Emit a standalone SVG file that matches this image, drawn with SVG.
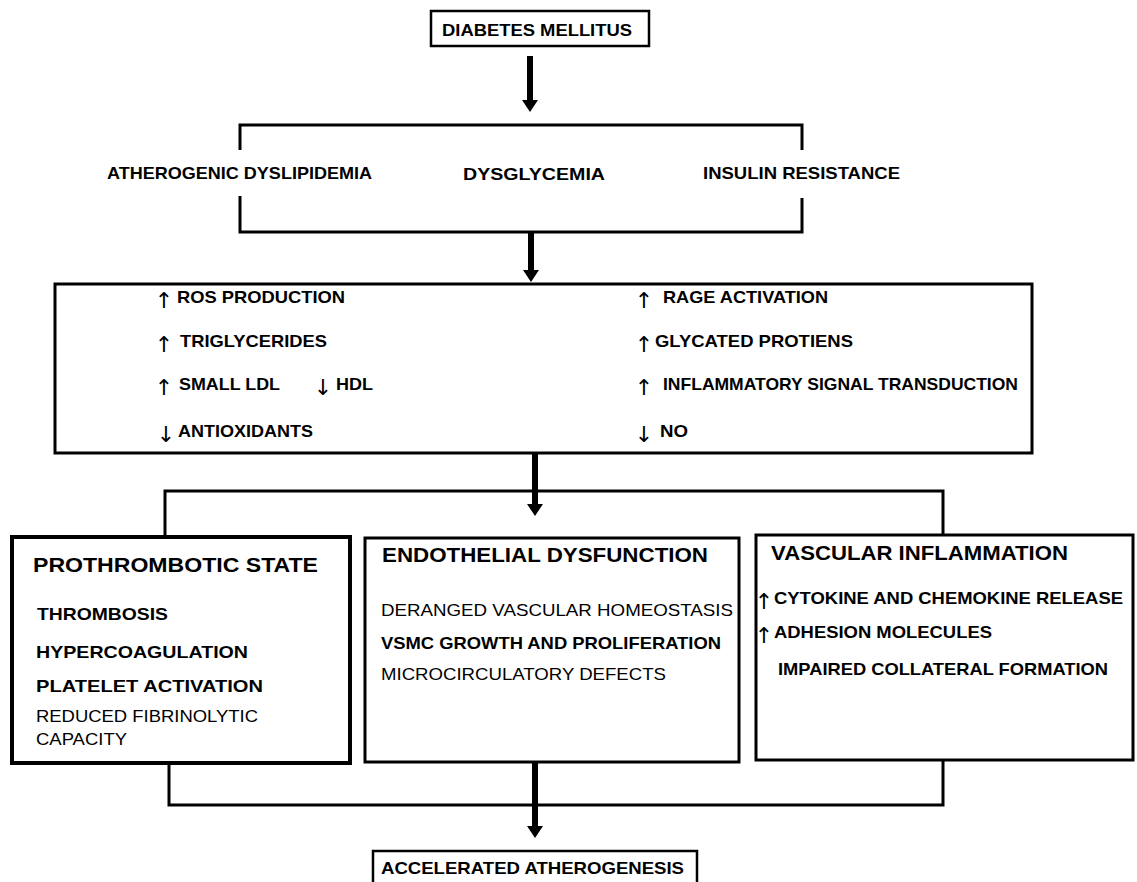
<svg xmlns="http://www.w3.org/2000/svg" width="1137" height="882" viewBox="0 0 1137 882">
<defs>
<style>
text{font-family:"Liberation Sans",Arial,"DejaVu Sans",sans-serif;fill:#000}
.b{font-weight:bold;font-size:17px}
.r{font-weight:normal;font-size:17px}
.t{font-weight:bold;font-size:21px}
.ar{font-family:"DejaVu Sans",sans-serif;font-weight:normal;font-size:22px;text-anchor:middle}
.box{fill:#fff;stroke:#000}
.ln{fill:none;stroke:#000;stroke-width:3}
.sh{fill:none;stroke:#000;stroke-width:6}
</style>
<marker id="ah" viewBox="0 0 12 16" refX="0" refY="8" markerWidth="12" markerHeight="16" markerUnits="userSpaceOnUse" orient="auto">
<path d="M0,0 L12,8 L0,16 z" fill="#000"/>
</marker>
</defs>
<rect width="1137" height="882" fill="#fff"/>

<g id="connectors">
<line class="sh" x1="530" y1="56" x2="530" y2="100" marker-end="url(#ah)"/>
<path class="ln" d="M240,150 V125 H802 V150"/>
<path class="ln" d="M240,196 V232 H802 V198"/>
<line class="sh" x1="531" y1="232" x2="531" y2="270" marker-end="url(#ah)"/>
<path class="ln" d="M165,537 V491 H943 V535"/>
<line class="sh" x1="535" y1="453" x2="535" y2="504" marker-end="url(#ah)"/>
<path class="ln" d="M169,764 V805 H943 V760"/>
<line class="sh" x1="535" y1="762" x2="535" y2="826" marker-end="url(#ah)"/>
</g>

<g id="n-diabetes">
<rect class="box" x="431" y="11" width="218" height="35" stroke-width="2.5"/>
<text class="b" x="442" y="36" textLength="190" lengthAdjust="spacingAndGlyphs">DIABETES MELLITUS</text>
</g>

<g id="n-dyslipidemia">
<text class="b" x="107" y="179" textLength="265" lengthAdjust="spacingAndGlyphs">ATHEROGENIC DYSLIPIDEMIA</text>
</g>
<g id="n-dysglycemia">
<text class="b" x="463" y="180" textLength="142" lengthAdjust="spacingAndGlyphs">DYSGLYCEMIA</text>
</g>
<g id="n-insulin">
<text class="b" x="703" y="179" textLength="197" lengthAdjust="spacingAndGlyphs">INSULIN RESISTANCE</text>
</g>

<g id="n-mechanisms">
<rect class="box" x="55" y="284" width="977" height="169" stroke-width="3"/>
<text class="ar" x="164" y="308">↑</text>
<text class="b" x="177" y="303" textLength="168" lengthAdjust="spacingAndGlyphs">ROS PRODUCTION</text>
<text class="ar" x="164" y="352">↑</text>
<text class="b" x="180" y="347" textLength="147" lengthAdjust="spacingAndGlyphs">TRIGLYCERIDES</text>
<text class="ar" x="164" y="395">↑</text>
<text class="b" x="179" y="390" textLength="101" lengthAdjust="spacingAndGlyphs">SMALL LDL</text>
<text class="ar" x="323" y="395">↓</text>
<text class="b" x="336" y="390" textLength="37" lengthAdjust="spacingAndGlyphs">HDL</text>
<text class="ar" x="166" y="442">↓</text>
<text class="b" x="178" y="437" textLength="135" lengthAdjust="spacingAndGlyphs">ANTIOXIDANTS</text>
<text class="ar" x="644" y="308">↑</text>
<text class="b" x="663" y="303" textLength="165" lengthAdjust="spacingAndGlyphs">RAGE ACTIVATION</text>
<text class="ar" x="644" y="352">↑</text>
<text class="b" x="655" y="347" textLength="198" lengthAdjust="spacingAndGlyphs">GLYCATED PROTIENS</text>
<text class="ar" x="644" y="395">↑</text>
<text class="b" x="663" y="390" textLength="355" lengthAdjust="spacingAndGlyphs">INFLAMMATORY SIGNAL TRANSDUCTION</text>
<text class="ar" x="644" y="442">↓</text>
<text class="b" x="660" y="437" textLength="28" lengthAdjust="spacingAndGlyphs">NO</text>
</g>

<g id="n-prothrombotic">
<rect class="box" x="12" y="537" width="338" height="226" stroke-width="4"/>
<text class="t" x="33" y="572" textLength="285" lengthAdjust="spacingAndGlyphs">PROTHROMBOTIC STATE</text>
<text class="b" x="37" y="620" textLength="131" lengthAdjust="spacingAndGlyphs">THROMBOSIS</text>
<text class="b" x="36" y="658" textLength="212" lengthAdjust="spacingAndGlyphs">HYPERCOAGULATION</text>
<text class="b" x="36" y="692" textLength="227" lengthAdjust="spacingAndGlyphs">PLATELET ACTIVATION</text>
<text class="r" x="36" y="722" textLength="222" lengthAdjust="spacingAndGlyphs">REDUCED FIBRINOLYTIC</text>
<text class="r" x="36" y="745" textLength="91" lengthAdjust="spacingAndGlyphs">CAPACITY</text>
</g>

<g id="n-endothelial">
<rect class="box" x="365" y="538" width="374" height="224" stroke-width="3"/>
<text class="t" x="382" y="562" textLength="326" lengthAdjust="spacingAndGlyphs">ENDOTHELIAL DYSFUNCTION</text>
<text class="r" x="381" y="616" textLength="352" lengthAdjust="spacingAndGlyphs">DERANGED VASCULAR HOMEOSTASIS</text>
<text class="b" x="381" y="649" textLength="340" lengthAdjust="spacingAndGlyphs">VSMC GROWTH AND PROLIFERATION</text>
<text class="r" x="381" y="680" textLength="285" lengthAdjust="spacingAndGlyphs">MICROCIRCULATORY DEFECTS</text>
</g>

<g id="n-vascular">
<rect class="box" x="756" y="535" width="377" height="225" stroke-width="3"/>
<text class="t" x="771" y="560" textLength="297" lengthAdjust="spacingAndGlyphs">VASCULAR INFLAMMATION</text>
<text class="ar" x="764" y="609">↑</text>
<text class="b" x="774" y="604" textLength="349" lengthAdjust="spacingAndGlyphs">CYTOKINE AND CHEMOKINE RELEASE</text>
<text class="ar" x="764" y="643">↑</text>
<text class="b" x="774" y="638" textLength="218" lengthAdjust="spacingAndGlyphs">ADHESION MOLECULES</text>
<text class="b" x="778" y="675" textLength="330" lengthAdjust="spacingAndGlyphs">IMPAIRED COLLATERAL FORMATION</text>
</g>

<g id="n-atherogenesis">
<path class="box" d="M373,884 V851 H697 V884" stroke-width="2.5"/>
<text class="b" x="381" y="874" textLength="303" lengthAdjust="spacingAndGlyphs">ACCELERATED ATHEROGENESIS</text>
</g>
</svg>
